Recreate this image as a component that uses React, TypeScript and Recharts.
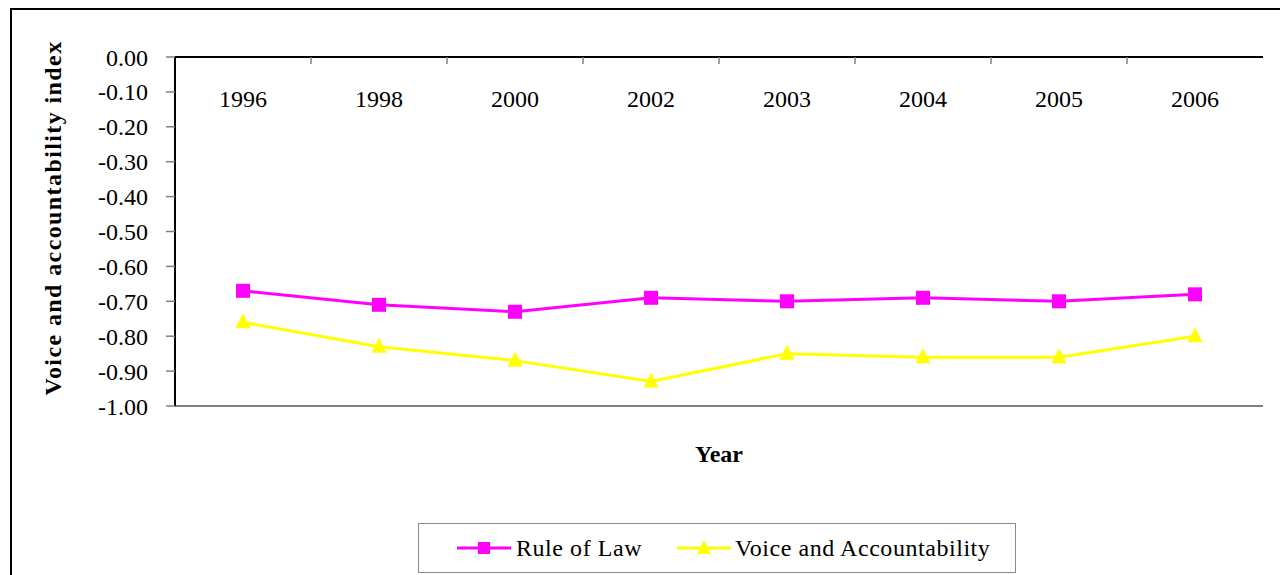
import { LineChart, Line, XAxis, YAxis, Legend } from 'recharts';

const years = ['1996', '1998', '2000', '2002', '2003', '2004', '2005', '2006'];
const ruleOfLaw = [-0.67, -0.71, -0.73, -0.69, -0.7, -0.69, -0.7, -0.68];
const voiceAccountability = [-0.76, -0.83, -0.87, -0.93, -0.85, -0.86, -0.86, -0.8];
const yTicks = [0, -0.1, -0.2, -0.3, -0.4, -0.5, -0.6, -0.7, -0.8, -0.9, -1];

const data = years.map((year, i) => ({
  year,
  rule: ruleOfLaw[i],
  voice: voiceAccountability[i],
}));

const MAGENTA = '#ff00ff';
const YELLOW = '#ffff00';
const FONT = "'Liberation Serif', 'Times New Roman', serif";
const YEAR_TICK_MARGIN = 33;

const SquareDot = (props: any) => {
  const { cx, cy, index } = props;
  if (cx == null || cy == null) return null;
  return <rect key={`sq-${index}`} x={cx - 7} y={cy - 7} width={14} height={14} fill={MAGENTA} />;
};

const TriangleDot = (props: any) => {
  const { cx, cy, index } = props;
  if (cx == null || cy == null) return null;
  return (
    <polygon
      key={`tri-${index}`}
      points={`${cx},${cy - 9} ${cx - 7.5},${cy + 6} ${cx + 7.5},${cy + 6}`}
      fill={YELLOW}
    />
  );
};

// year label inside the plot, plus the small separator tick between categories
const YearTick = (props: any) => {
  const { x, y, payload, index } = props;
  const half = payload && typeof payload.offset === 'number' ? payload.offset : 0;
  const axisY = y - YEAR_TICK_MARGIN;
  return (
    <g>
      <text x={x} y={y} dy="0.71em" textAnchor="middle" fontSize={24} fill="#000">
        {payload.value}
      </text>
      {index > 0 && half > 0 && (
        <line x1={x - half} x2={x - half} y1={axisY} y2={axisY + 7} stroke="#808080" strokeWidth={1.5} />
      )}
    </g>
  );
};

const LegendBox = () => (
  <div
    style={{
      boxSizing: 'border-box',
      width: '100%',
      height: '100%',
      border: '1px solid #8a8a8a',
      background: '#fff',
      display: 'flex',
      alignItems: 'center',
      paddingLeft: 38,
      fontFamily: FONT,
      fontSize: 24,
      letterSpacing: 0.55,
      color: '#000',
    }}
  >
    <svg width={54} height={20} style={{ marginRight: 5, flexShrink: 0 }}>
      <line x1={0} y1={10} x2={54} y2={10} stroke={MAGENTA} strokeWidth={3} />
      <rect x={21} y={4} width={12} height={12} fill={MAGENTA} />
    </svg>
    <span>Rule of Law</span>
    <svg width={54} height={20} style={{ marginLeft: 35, marginRight: 4, flexShrink: 0 }}>
      <line x1={0} y1={10} x2={54} y2={10} stroke={YELLOW} strokeWidth={3} />
      <polygon points="27,2 20,16 34,16" fill={YELLOW} />
    </svg>
    <span>Voice and Accountability</span>
  </div>
);

export default function App() {
  return (
    <div style={{ position: 'relative', width: 1280, height: 575, overflow: 'hidden', fontFamily: FONT, background: '#fff' }}>
      <style>{'body{margin:0;overflow:hidden;background:#fff}'}</style>
      <div
        style={{
          position: 'absolute',
          left: 10,
          top: 8,
          width: 1290,
          height: 600,
          borderLeft: '2px solid #000',
          borderTop: '2px solid #000',
        }}
      />
      <div style={{ position: 'absolute', left: 0, top: 0 }}>
        <LineChart width={1280} height={575} data={data} margin={{ top: 57, right: 17, bottom: 109, left: 75 }}>
          <XAxis
            dataKey="year"
            orientation="top"
            scale="band"
            mirror
            axisLine={{ stroke: '#000', strokeWidth: 2 }}
            tickLine={false}
            tickSize={0}
            tickMargin={YEAR_TICK_MARGIN}
            tick={YearTick}
          />
          <XAxis
            xAxisId="bottom"
            orientation="bottom"
            height={60}
            axisLine={{ stroke: '#808080', strokeWidth: 2 }}
            tick={false}
            tickLine={false}
            label={{
              content: (props: any) => {
                const vb = props.viewBox || {};
                return (
                  <text x={vb.x + vb.width / 2} y={462} textAnchor="middle" fontSize={24} fontWeight="bold" fill="#000">
                    Year
                  </text>
                );
              },
            }}
          />
          <YAxis
            domain={[-1, 0]}
            ticks={yTicks}
            width={100}
            interval={0}
            axisLine={{ stroke: '#000', strokeWidth: 2 }}
            tickLine={{ stroke: '#808080', strokeWidth: 1.5 }}
            tickSize={9}
            tickMargin={18}
            tick={{ fill: '#000', fontSize: 24 }}
            tickFormatter={(v: number) => v.toFixed(2)}
            label={{
              content: () => (
                <text
                  x={61}
                  y={218}
                  transform="rotate(-90, 61, 218)"
                  textAnchor="middle"
                  fontSize={24}
                  fontWeight="bold"
                  letterSpacing={1.4}
                  fill="#000"
                >
                  Voice and accountability index
                </text>
              ),
            }}
          />
          <YAxis
            yAxisId="right"
            orientation="right"
            width={0}
            domain={[-1, 0]}
            axisLine={{ stroke: '#808080', strokeWidth: 2 }}
            tick={false}
            tickLine={false}
          />
          <Legend
            verticalAlign="middle"
            layout="horizontal"
            wrapperStyle={{ left: 418, top: 523, width: 598, height: 50 }}
            content={() => <LegendBox />}
          />
          <Line
            dataKey="rule"
            name="Rule of Law"
            stroke={MAGENTA}
            strokeWidth={3}
            dot={SquareDot}
            activeDot={false}
            isAnimationActive={false}
          />
          <Line
            dataKey="voice"
            name="Voice and Accountability"
            stroke={YELLOW}
            strokeWidth={3}
            dot={TriangleDot}
            activeDot={false}
            isAnimationActive={false}
          />
        </LineChart>
      </div>
    </div>
  );
}
